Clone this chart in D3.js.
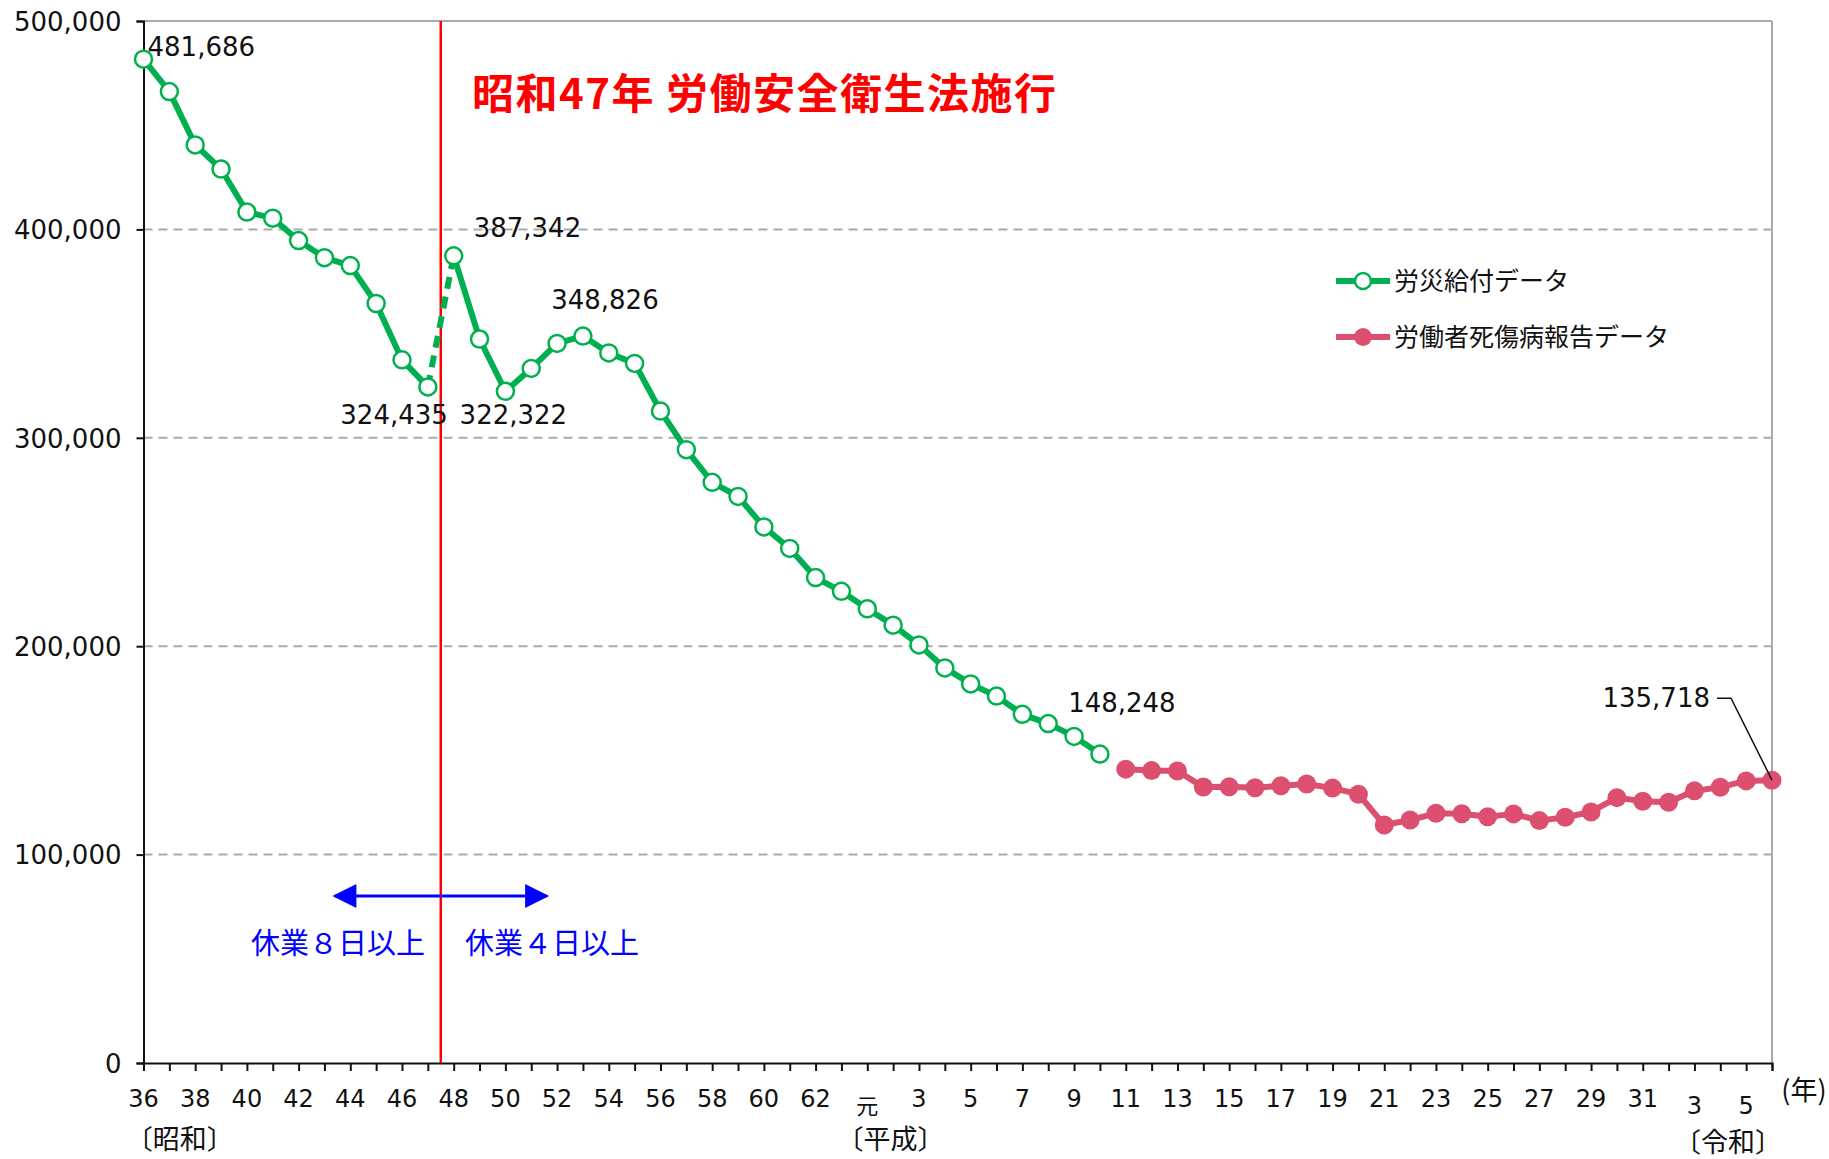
<!DOCTYPE html>
<html lang="ja">
<head>
<meta charset="utf-8">
<title>労働災害による死傷者数の推移</title>
<script src="https://d3js.org/d3.v7.min.js"></script>
<style>
  body { margin: 0; background: #fff; }
  svg text { font-family: "DejaVu Sans", "Noto Sans CJK JP", sans-serif; fill: #111; }
  .jp { font-family: "Noto Sans CJK JP", sans-serif; }
</style>
</head>
<body>
<div id="chart"></div>
<script>
// 労災給付データ (昭和36年〜平成10年)
var greenYears = d3.range(1961, 1999);
var greenValues = [481686, 466126, 440547, 428977, 408331, 405391, 394627, 386443, 382642, 364444, 337421, 324435,
  387342, 347407, 322322, 333311, 345293, 348826, 340731, 335706, 312844, 294319, 278623, 271884, 257240, 246891,
  232953, 226318, 217964, 210108, 200633, 189589, 181900, 176047, 167316, 162862, 156726, 148248];
// 労働者死傷病報告データ (平成11年〜令和6年)
var redYears = d3.range(1999, 2025);
var redValues = [141000, 140300, 140100, 132400, 132500, 132100, 133000, 133900, 131900, 129000, 114200, 116600,
  119800, 119576, 118157, 119535, 116311, 117910, 120460, 127329, 125611, 125115, 130586, 132355, 135371, 135718];
// x軸ラベル (奇数年)
var labelYears = d3.range(1961, 2024, 2);
var tickLabels = ["36","38","40","42","44","46","48","50","52","54","56","58","60","62","元",
  "3","5","7","9","11","13","15","17","19","21","23","25","27","29","31","3","5"];
var yTicks = [0, 100000, 200000, 300000, 400000, 500000];
var eras = [{name: "〔昭和〕", year: 1962.4}, {name: "〔平成〕", year: 1989.9}, {name: "〔令和〕", year: 2022.3}];

var width = 1829, height = 1159;
var green = "#00b050", red = "#dc4f6f";

var svg = d3.select("#chart").append("svg")
  .attr("width", width).attr("height", height);

var x = d3.scaleLinear().domain([1961, 2024]).range([143.5, 1772]);
var y = d3.scaleLinear().domain([0, 500000]).range([1063, 21]);

// grid
svg.append("g").selectAll("line").data(yTicks.filter(function(d) { return d > 0; })).enter().append("line")
  .attr("x1", x(1961)).attr("x2", x(2024))
  .attr("y1", function(d) { return y(d); }).attr("y2", function(d) { return y(d); })
  .attr("stroke", "#aaa").attr("stroke-width", 2)
  .attr("stroke-dasharray", function(d) { return d === 500000 ? null : "9,6"; });
svg.append("line")
  .attr("x1", x(2024)).attr("x2", x(2024)).attr("y1", y(500000)).attr("y2", y(0))
  .attr("stroke", "#aaa").attr("stroke-width", 2);

// axes
var yAxis = svg.append("g").attr("transform", "translate(" + x(1961) + ",0)")
  .call(d3.axisLeft(y).tickValues(yTicks).tickSize(7).tickFormat(d3.format(",")));
yAxis.selectAll("text").attr("font-size", 26).attr("x", -22).attr("dy", "0.36em");

var xAxis = svg.append("g").attr("transform", "translate(0," + y(0) + ")")
  .call(d3.axisBottom(x).tickValues(d3.range(1961, 2025)).tickSize(8).tickFormat(""));
svg.selectAll(".domain, .tick line").attr("stroke", "#111").attr("stroke-width", 2);

svg.append("g").selectAll("text").data(labelYears).enter().append("text")
  .attr("class", function(d, i) { return /[元]/.test(tickLabels[i]) ? "jp" : null; })
  .attr("x", function(d) { return x(d); })
  .attr("y", function(d, i) { return (d === 1989 || d > 2019) ? 1114 : 1107; })
  .attr("text-anchor", "middle").attr("font-size", function(d, i) { return d === 1989 ? 22 : 24; })
  .text(function(d, i) { return tickLabels[i]; });

svg.append("g").selectAll("text").data(eras).enter().append("text")
  .attr("class", "jp")
  .attr("x", function(d) { return x(d.year); })
  .attr("y", function(d) { return d.year > 2020 ? 1152 : 1149; })
  .attr("text-anchor", "middle").attr("font-size", 27)
  .text(function(d) { return d.name; });
svg.append("text").attr("class", "jp")
  .attr("x", 1804).attr("y", 1100).attr("text-anchor", "middle").attr("font-size", 27)
  .text("(年)");

// 昭和47年 line
svg.append("line")
  .attr("x1", x(1972.5)).attr("x2", x(1972.5)).attr("y1", y(500000)).attr("y2", y(0))
  .attr("stroke", "#ff0000").attr("stroke-width", 2.5);
svg.append("text").attr("class", "jp")
  .attr("x", 472).attr("y", 109).attr("font-size", 42).attr("font-weight", "bold")
  .attr("letter-spacing", 1.5)
  .style("fill", "#ff0000")
  .text("昭和47年 労働安全衛生法施行");

// arrow
var defs = svg.append("defs");
defs.append("marker").attr("id", "ah").attr("viewBox", "0 0 10 10")
  .attr("refX", 9).attr("refY", 5).attr("markerWidth", 28).attr("markerHeight", 24)
  .attr("markerUnits", "userSpaceOnUse").attr("orient", "auto-start-reverse")
  .append("path").attr("d", "M0,0L10,5L0,10Z").attr("fill", "#0000ff");
svg.append("line")
  .attr("x1", x(1968.4)).attr("x2", x(1976.6)).attr("y1", 896).attr("y2", 896)
  .attr("stroke", "#0000ff").attr("stroke-width", 3)
  .attr("marker-start", "url(#ah)").attr("marker-end", "url(#ah)");
svg.append("text").attr("class", "jp").attr("x", 338).attr("y", 954)
  .attr("text-anchor", "middle").attr("font-size", 29).style("fill", "#0000ff").text("休業８日以上");
svg.append("text").attr("class", "jp").attr("x", 552).attr("y", 954)
  .attr("text-anchor", "middle").attr("font-size", 29).style("fill", "#0000ff").text("休業４日以上");

// lines
var line = d3.line().x(function(d) { return x(d[0]); }).y(function(d) { return y(d[1]); });
var greenPts = greenYears.map(function(d, i) { return [d, greenValues[i]]; });
var redPts = redYears.map(function(d, i) { return [d, redValues[i]]; });
var greenBefore = greenPts.filter(function(d) { return d[0] <= 1972; });
var greenAfter = greenPts.filter(function(d) { return d[0] >= 1973; });
var greenGap = greenPts.filter(function(d) { return d[0] === 1972 || d[0] === 1973; });

[greenBefore, greenAfter].forEach(function(pts) {
  svg.append("path").datum(pts).attr("d", line)
    .attr("fill", "none").attr("stroke", green).attr("stroke-width", 6).attr("stroke-linejoin", "round");
});
svg.append("path").datum(greenGap).attr("d", line)
  .attr("fill", "none").attr("stroke", green).attr("stroke-width", 6).attr("stroke-dasharray", "12,8");
svg.append("path").datum(redPts).attr("d", line)
  .attr("fill", "none").attr("stroke", red).attr("stroke-width", 6).attr("stroke-linejoin", "round");

svg.append("g").selectAll("circle").data(greenPts).enter().append("circle")
  .attr("cx", function(d) { return x(d[0]); }).attr("cy", function(d) { return y(d[1]); })
  .attr("r", 8.5).attr("fill", "#fff").attr("stroke", green).attr("stroke-width", 2.5);
svg.append("g").selectAll("circle").data(redPts).enter().append("circle")
  .attr("cx", function(d) { return x(d[0]); }).attr("cy", function(d) { return y(d[1]); })
  .attr("r", 9.5).attr("fill", red);

// data labels
var labels = [
  {year: 1961, v: 481686, dx: 4, dy: -3, anchor: "start"},
  {year: 1972, v: 324435, dx: 20, dy: 37, anchor: "end"},
  {year: 1973, v: 387342, dx: 20, dy: -19, anchor: "start"},
  {year: 1975, v: 322322, dx: 8, dy: 33, anchor: "middle"},
  {year: 1978, v: 348826, dx: 22, dy: -27, anchor: "middle"},
  {year: 1998, v: 148248, dx: 22, dy: -42, anchor: "middle"}
];
svg.append("g").selectAll("text").data(labels).enter().append("text")
  .attr("x", function(d) { return x(d.year) + d.dx; })
  .attr("y", function(d) { return y(d.v) + d.dy; })
  .attr("text-anchor", function(d) { return d.anchor; })
  .attr("font-size", 26)
  .text(function(d) { return d3.format(",")(d.v); });

var last = redPts[redPts.length - 1];
svg.append("text").attr("x", x(last[0]) - 62).attr("y", y(last[1]) - 73)
  .attr("text-anchor", "end").attr("font-size", 26).text(d3.format(",")(last[1]));
svg.append("path")
  .attr("d", "M" + (x(last[0]) - 55) + "," + (y(last[1]) - 82) + "H" + (x(last[0]) - 41) +
    "L" + x(last[0]) + "," + y(last[1]))
  .attr("fill", "none").attr("stroke", "#111").attr("stroke-width", 1.5);

// legend
var legend = [
  {name: "労災給付データ", color: green, open: true},
  {name: "労働者死傷病報告データ", color: red, open: false}
];
var lg = svg.append("g").selectAll("g").data(legend).enter().append("g")
  .attr("transform", function(d, i) { return "translate(1336," + (281 + i * 56) + ")"; });
lg.append("line").attr("x1", 0).attr("x2", 54).attr("stroke", function(d) { return d.color; })
  .attr("stroke-width", 6);
lg.append("circle").attr("cx", 27).attr("r", function(d) { return d.open ? 8 : 9; })
  .attr("fill", function(d) { return d.open ? "#fff" : d.color; })
  .attr("stroke", function(d) { return d.open ? d.color : null; }).attr("stroke-width", 2.5);
lg.append("text").attr("class", "jp").attr("x", 58).attr("dy", "0.36em").attr("font-size", 25)
  .text(function(d) { return d.name; });
</script>
</body>
</html>
